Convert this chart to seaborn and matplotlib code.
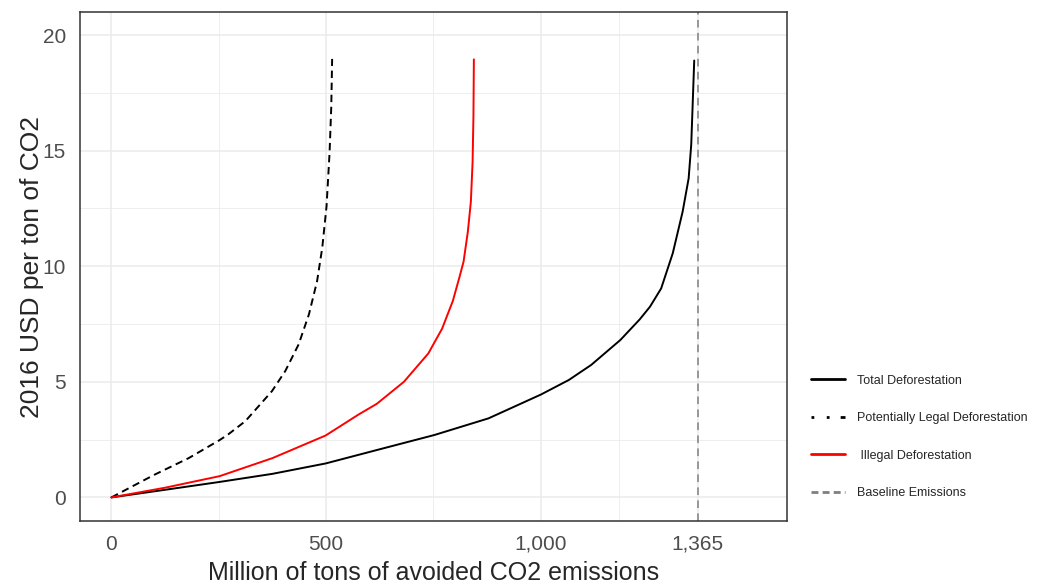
import numpy as np
import pandas as pd
import matplotlib
matplotlib.use("Agg")
import matplotlib.pyplot as plt
import seaborn as sns
from matplotlib.lines import Line2D
from matplotlib.ticker import FixedLocator

# values (million tCO2 avoided, USD per tCO2)
total_x = [0, 125, 252, 375, 499, 618, 752, 878, 1000, 1065, 1117, 1185,
           1230, 1254, 1280, 1307, 1330, 1344, 1350, 1353, 1357]
total_y = [0, 0.33, 0.67, 1.02, 1.47, 2.05, 2.7, 3.42, 4.45, 5.08, 5.73, 6.81,
           7.7, 8.25, 9.04, 10.56, 12.36, 13.8, 15.25, 16.8, 18.9]

illegal_x = [0, 125, 252, 375, 499, 575, 618, 681, 738, 770, 795, 810,
             820, 830, 837, 841, 843, 844]
illegal_y = [0, 0.42, 0.92, 1.7, 2.68, 3.58, 4.05, 5.0, 6.23, 7.3, 8.5, 9.5,
             10.2, 11.5, 12.8, 14.5, 16.5, 18.95]

legal_x = [0, 99, 180, 252, 273, 312, 374, 405, 436, 460, 479, 491,
           501, 508, 512, 514]
legal_y = [0, 0.97, 1.7, 2.48, 2.74, 3.3, 4.6, 5.47, 6.62, 7.92, 9.36, 10.8,
           12.6, 14.9, 16.9, 18.97]

baseline = 1365
x_ticks = [0, 500, 1000, 1365]
x_tick_labels = ["0", "500", "1,000", "1,365"]
y_ticks = [0, 5, 10, 15, 20]

series = ["Total Deforestation", "Potentially Legal Deforestation", "Illegal Deforestation"]

df = pd.concat([
    pd.DataFrame({"x": total_x, "y": total_y, "series": series[0]}),
    pd.DataFrame({"x": legal_x, "y": legal_y, "series": series[1]}),
    pd.DataFrame({"x": illegal_x, "y": illegal_y, "series": series[2]}),
], ignore_index=True)

sns.set_style("white")
plt.rcParams["font.family"] = ["Liberation Sans", "DejaVu Sans"]

fig = plt.figure(figsize=(10.57, 5.86), dpi=100)
ax = fig.add_axes([80 / 1057, 1 - 521 / 586, (787 - 80) / 1057, (521 - 12) / 586])

palette = {series[0]: "black", series[1]: "black", series[2]: "#FF0000"}
dashes = {series[0]: "", series[1]: (3.8, 2.4), series[2]: ""}
sns.lineplot(data=df, x="x", y="y", hue="series", style="series",
             palette=palette, dashes=dashes, sort=False, estimator=None,
             linewidth=1.4, ax=ax, legend=False)

ax.axvline(baseline, color="#7F7F7F", linestyle=(0, (5, 3.5)), linewidth=1.1, zorder=1)

ax.set_xlim(-73, 1573)
ax.set_ylim(-1.02, 21.0)
ax.xaxis.set_major_locator(FixedLocator(x_ticks))
ax.set_xticklabels(x_tick_labels)
ax.xaxis.set_minor_locator(FixedLocator([250, 750, 1182.5]))
ax.yaxis.set_major_locator(FixedLocator(y_ticks))
ax.yaxis.set_minor_locator(FixedLocator([2.5, 7.5, 12.5, 17.5]))

ax.grid(which="major", color="#EBEBEB", linewidth=1.1)
ax.grid(which="minor", color="#EBEBEB", linewidth=0.6)
ax.set_axisbelow(True)
for s in ax.spines.values():
    s.set_color("#333333")
    s.set_linewidth(1.1)

ax.tick_params(which="major", length=4, width=1.1, color="#333333",
               labelsize=15, labelcolor="#4D4D4D")
ax.tick_params(axis="x", pad=6)
ax.tick_params(axis="y", pad=6)
ax.tick_params(which="minor", length=0)
ax.set_xlabel("Million of tons of avoided CO2 emissions", fontsize=18, labelpad=5)
ax.set_ylabel("2016 USD per ton of CO2", fontsize=19, labelpad=-1)

handles = [
    Line2D([], [], color="black", linewidth=2),
    Line2D([], [], color="black", linewidth=2, dashes=(1, 4.5, 1, 4.0, 6, 1)),
    Line2D([], [], color="#FF0000", linewidth=2),
    Line2D([], [], color="#7F7F7F", linewidth=2, dashes=(2.5, 1.5)),
]
labels = ["Total Deforestation", "Potentially Legal Deforestation",
          " Illegal Deforestation", "Baseline Emissions"]
fig.legend(handles, labels, loc="center left", bbox_to_anchor=(806 / 1057, 1 - 437 / 586),
           frameon=False, fontsize=9, handlelength=2.7, handletextpad=1.0,
           labelspacing=2.05, borderaxespad=0)

fig.savefig("out.png", dpi=100)
